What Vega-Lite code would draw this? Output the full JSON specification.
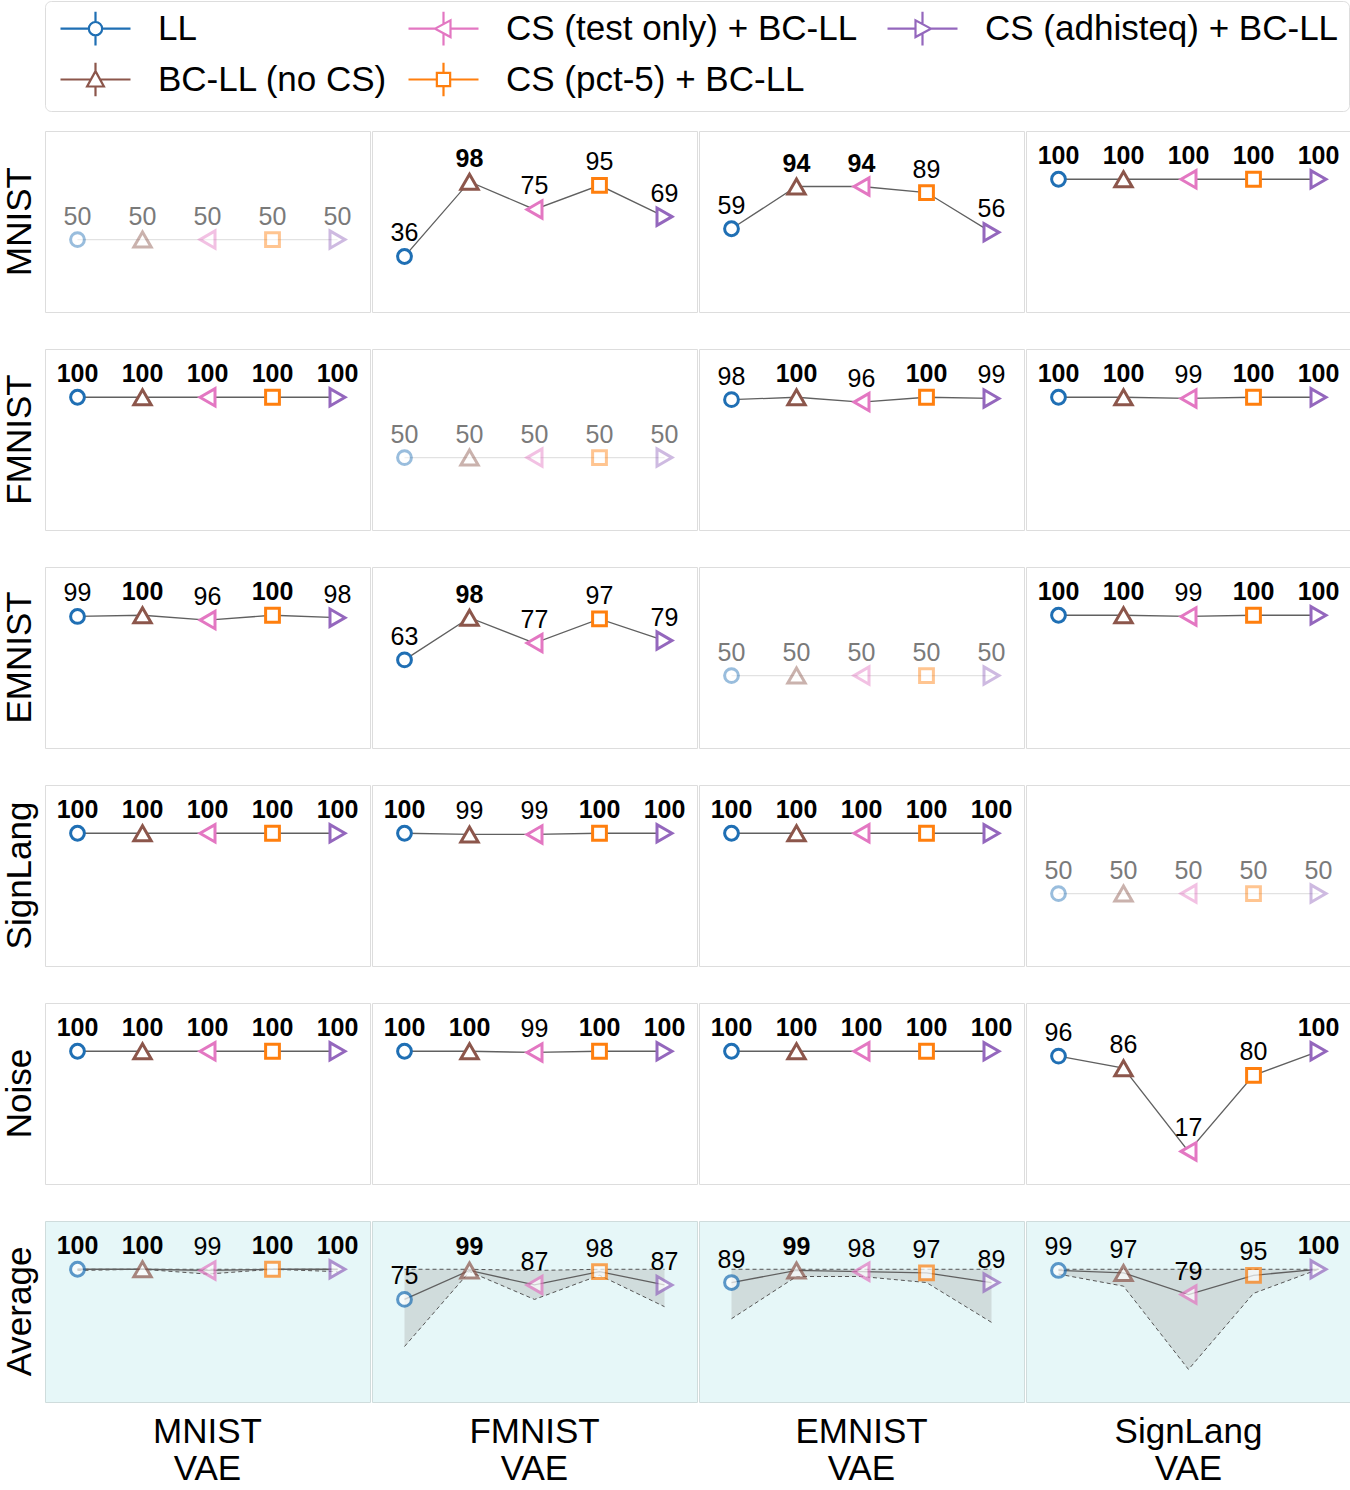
{
  "$schema": "https://vega.github.io/schema/vega-lite/v6.json",
  "padding": {"left": 2, "top": 0, "right": 0, "bottom": 0},
  "background": "white",
  "datasets": {
    "main": [
      {"dataset":"MNIST","model":"MNIST VAE","method":"LL","value":50},
      {"dataset":"MNIST","model":"MNIST VAE","method":"BC-LL (no CS)","value":50},
      {"dataset":"MNIST","model":"MNIST VAE","method":"CS (test only) +  BC-LL","value":50},
      {"dataset":"MNIST","model":"MNIST VAE","method":"CS (pct-5) + BC-LL","value":50},
      {"dataset":"MNIST","model":"MNIST VAE","method":"CS (adhisteq) + BC-LL","value":50},
      {"dataset":"MNIST","model":"FMNIST VAE","method":"LL","value":36},
      {"dataset":"MNIST","model":"FMNIST VAE","method":"BC-LL (no CS)","value":98},
      {"dataset":"MNIST","model":"FMNIST VAE","method":"CS (test only) +  BC-LL","value":75},
      {"dataset":"MNIST","model":"FMNIST VAE","method":"CS (pct-5) + BC-LL","value":95},
      {"dataset":"MNIST","model":"FMNIST VAE","method":"CS (adhisteq) + BC-LL","value":69},
      {"dataset":"MNIST","model":"EMNIST VAE","method":"LL","value":59},
      {"dataset":"MNIST","model":"EMNIST VAE","method":"BC-LL (no CS)","value":94},
      {"dataset":"MNIST","model":"EMNIST VAE","method":"CS (test only) +  BC-LL","value":94},
      {"dataset":"MNIST","model":"EMNIST VAE","method":"CS (pct-5) + BC-LL","value":89},
      {"dataset":"MNIST","model":"EMNIST VAE","method":"CS (adhisteq) + BC-LL","value":56},
      {"dataset":"MNIST","model":"SignLang VAE","method":"LL","value":100},
      {"dataset":"MNIST","model":"SignLang VAE","method":"BC-LL (no CS)","value":100},
      {"dataset":"MNIST","model":"SignLang VAE","method":"CS (test only) +  BC-LL","value":100},
      {"dataset":"MNIST","model":"SignLang VAE","method":"CS (pct-5) + BC-LL","value":100},
      {"dataset":"MNIST","model":"SignLang VAE","method":"CS (adhisteq) + BC-LL","value":100},

      {"dataset":"FMNIST","model":"MNIST VAE","method":"LL","value":100},
      {"dataset":"FMNIST","model":"MNIST VAE","method":"BC-LL (no CS)","value":100},
      {"dataset":"FMNIST","model":"MNIST VAE","method":"CS (test only) +  BC-LL","value":100},
      {"dataset":"FMNIST","model":"MNIST VAE","method":"CS (pct-5) + BC-LL","value":100},
      {"dataset":"FMNIST","model":"MNIST VAE","method":"CS (adhisteq) + BC-LL","value":100},
      {"dataset":"FMNIST","model":"FMNIST VAE","method":"LL","value":50},
      {"dataset":"FMNIST","model":"FMNIST VAE","method":"BC-LL (no CS)","value":50},
      {"dataset":"FMNIST","model":"FMNIST VAE","method":"CS (test only) +  BC-LL","value":50},
      {"dataset":"FMNIST","model":"FMNIST VAE","method":"CS (pct-5) + BC-LL","value":50},
      {"dataset":"FMNIST","model":"FMNIST VAE","method":"CS (adhisteq) + BC-LL","value":50},
      {"dataset":"FMNIST","model":"EMNIST VAE","method":"LL","value":98},
      {"dataset":"FMNIST","model":"EMNIST VAE","method":"BC-LL (no CS)","value":100},
      {"dataset":"FMNIST","model":"EMNIST VAE","method":"CS (test only) +  BC-LL","value":96},
      {"dataset":"FMNIST","model":"EMNIST VAE","method":"CS (pct-5) + BC-LL","value":100},
      {"dataset":"FMNIST","model":"EMNIST VAE","method":"CS (adhisteq) + BC-LL","value":99},
      {"dataset":"FMNIST","model":"SignLang VAE","method":"LL","value":100},
      {"dataset":"FMNIST","model":"SignLang VAE","method":"BC-LL (no CS)","value":100},
      {"dataset":"FMNIST","model":"SignLang VAE","method":"CS (test only) +  BC-LL","value":99},
      {"dataset":"FMNIST","model":"SignLang VAE","method":"CS (pct-5) + BC-LL","value":100},
      {"dataset":"FMNIST","model":"SignLang VAE","method":"CS (adhisteq) + BC-LL","value":100},

      {"dataset":"EMNIST","model":"MNIST VAE","method":"LL","value":99},
      {"dataset":"EMNIST","model":"MNIST VAE","method":"BC-LL (no CS)","value":100},
      {"dataset":"EMNIST","model":"MNIST VAE","method":"CS (test only) +  BC-LL","value":96},
      {"dataset":"EMNIST","model":"MNIST VAE","method":"CS (pct-5) + BC-LL","value":100},
      {"dataset":"EMNIST","model":"MNIST VAE","method":"CS (adhisteq) + BC-LL","value":98},
      {"dataset":"EMNIST","model":"FMNIST VAE","method":"LL","value":63},
      {"dataset":"EMNIST","model":"FMNIST VAE","method":"BC-LL (no CS)","value":98},
      {"dataset":"EMNIST","model":"FMNIST VAE","method":"CS (test only) +  BC-LL","value":77},
      {"dataset":"EMNIST","model":"FMNIST VAE","method":"CS (pct-5) + BC-LL","value":97},
      {"dataset":"EMNIST","model":"FMNIST VAE","method":"CS (adhisteq) + BC-LL","value":79},
      {"dataset":"EMNIST","model":"EMNIST VAE","method":"LL","value":50},
      {"dataset":"EMNIST","model":"EMNIST VAE","method":"BC-LL (no CS)","value":50},
      {"dataset":"EMNIST","model":"EMNIST VAE","method":"CS (test only) +  BC-LL","value":50},
      {"dataset":"EMNIST","model":"EMNIST VAE","method":"CS (pct-5) + BC-LL","value":50},
      {"dataset":"EMNIST","model":"EMNIST VAE","method":"CS (adhisteq) + BC-LL","value":50},
      {"dataset":"EMNIST","model":"SignLang VAE","method":"LL","value":100},
      {"dataset":"EMNIST","model":"SignLang VAE","method":"BC-LL (no CS)","value":100},
      {"dataset":"EMNIST","model":"SignLang VAE","method":"CS (test only) +  BC-LL","value":99},
      {"dataset":"EMNIST","model":"SignLang VAE","method":"CS (pct-5) + BC-LL","value":100},
      {"dataset":"EMNIST","model":"SignLang VAE","method":"CS (adhisteq) + BC-LL","value":100},

      {"dataset":"SignLang","model":"MNIST VAE","method":"LL","value":100},
      {"dataset":"SignLang","model":"MNIST VAE","method":"BC-LL (no CS)","value":100},
      {"dataset":"SignLang","model":"MNIST VAE","method":"CS (test only) +  BC-LL","value":100},
      {"dataset":"SignLang","model":"MNIST VAE","method":"CS (pct-5) + BC-LL","value":100},
      {"dataset":"SignLang","model":"MNIST VAE","method":"CS (adhisteq) + BC-LL","value":100},
      {"dataset":"SignLang","model":"FMNIST VAE","method":"LL","value":100},
      {"dataset":"SignLang","model":"FMNIST VAE","method":"BC-LL (no CS)","value":99},
      {"dataset":"SignLang","model":"FMNIST VAE","method":"CS (test only) +  BC-LL","value":99},
      {"dataset":"SignLang","model":"FMNIST VAE","method":"CS (pct-5) + BC-LL","value":100},
      {"dataset":"SignLang","model":"FMNIST VAE","method":"CS (adhisteq) + BC-LL","value":100},
      {"dataset":"SignLang","model":"EMNIST VAE","method":"LL","value":100},
      {"dataset":"SignLang","model":"EMNIST VAE","method":"BC-LL (no CS)","value":100},
      {"dataset":"SignLang","model":"EMNIST VAE","method":"CS (test only) +  BC-LL","value":100},
      {"dataset":"SignLang","model":"EMNIST VAE","method":"CS (pct-5) + BC-LL","value":100},
      {"dataset":"SignLang","model":"EMNIST VAE","method":"CS (adhisteq) + BC-LL","value":100},
      {"dataset":"SignLang","model":"SignLang VAE","method":"LL","value":50},
      {"dataset":"SignLang","model":"SignLang VAE","method":"BC-LL (no CS)","value":50},
      {"dataset":"SignLang","model":"SignLang VAE","method":"CS (test only) +  BC-LL","value":50},
      {"dataset":"SignLang","model":"SignLang VAE","method":"CS (pct-5) + BC-LL","value":50},
      {"dataset":"SignLang","model":"SignLang VAE","method":"CS (adhisteq) + BC-LL","value":50},

      {"dataset":"Noise","model":"MNIST VAE","method":"LL","value":100},
      {"dataset":"Noise","model":"MNIST VAE","method":"BC-LL (no CS)","value":100},
      {"dataset":"Noise","model":"MNIST VAE","method":"CS (test only) +  BC-LL","value":100},
      {"dataset":"Noise","model":"MNIST VAE","method":"CS (pct-5) + BC-LL","value":100},
      {"dataset":"Noise","model":"MNIST VAE","method":"CS (adhisteq) + BC-LL","value":100},
      {"dataset":"Noise","model":"FMNIST VAE","method":"LL","value":100},
      {"dataset":"Noise","model":"FMNIST VAE","method":"BC-LL (no CS)","value":100},
      {"dataset":"Noise","model":"FMNIST VAE","method":"CS (test only) +  BC-LL","value":99},
      {"dataset":"Noise","model":"FMNIST VAE","method":"CS (pct-5) + BC-LL","value":100},
      {"dataset":"Noise","model":"FMNIST VAE","method":"CS (adhisteq) + BC-LL","value":100},
      {"dataset":"Noise","model":"EMNIST VAE","method":"LL","value":100},
      {"dataset":"Noise","model":"EMNIST VAE","method":"BC-LL (no CS)","value":100},
      {"dataset":"Noise","model":"EMNIST VAE","method":"CS (test only) +  BC-LL","value":100},
      {"dataset":"Noise","model":"EMNIST VAE","method":"CS (pct-5) + BC-LL","value":100},
      {"dataset":"Noise","model":"EMNIST VAE","method":"CS (adhisteq) + BC-LL","value":100},
      {"dataset":"Noise","model":"SignLang VAE","method":"LL","value":96},
      {"dataset":"Noise","model":"SignLang VAE","method":"BC-LL (no CS)","value":86},
      {"dataset":"Noise","model":"SignLang VAE","method":"CS (test only) +  BC-LL","value":17},
      {"dataset":"Noise","model":"SignLang VAE","method":"CS (pct-5) + BC-LL","value":80},
      {"dataset":"Noise","model":"SignLang VAE","method":"CS (adhisteq) + BC-LL","value":100}
    ],
    "avg": [
      {"dataset":"Average","model":"MNIST VAE","method":"LL","value":100,"lo":99,"hi":100},
      {"dataset":"Average","model":"MNIST VAE","method":"BC-LL (no CS)","value":100,"lo":100,"hi":100},
      {"dataset":"Average","model":"MNIST VAE","method":"CS (test only) +  BC-LL","value":99,"lo":96,"hi":100},
      {"dataset":"Average","model":"MNIST VAE","method":"CS (pct-5) + BC-LL","value":100,"lo":100,"hi":100},
      {"dataset":"Average","model":"MNIST VAE","method":"CS (adhisteq) + BC-LL","value":100,"lo":98,"hi":100},
      {"dataset":"Average","model":"FMNIST VAE","method":"LL","value":75,"lo":36,"hi":100},
      {"dataset":"Average","model":"FMNIST VAE","method":"BC-LL (no CS)","value":99,"lo":98,"hi":100},
      {"dataset":"Average","model":"FMNIST VAE","method":"CS (test only) +  BC-LL","value":87,"lo":75,"hi":99},
      {"dataset":"Average","model":"FMNIST VAE","method":"CS (pct-5) + BC-LL","value":98,"lo":95,"hi":100},
      {"dataset":"Average","model":"FMNIST VAE","method":"CS (adhisteq) + BC-LL","value":87,"lo":69,"hi":100},
      {"dataset":"Average","model":"EMNIST VAE","method":"LL","value":89,"lo":59,"hi":100},
      {"dataset":"Average","model":"EMNIST VAE","method":"BC-LL (no CS)","value":99,"lo":94,"hi":100},
      {"dataset":"Average","model":"EMNIST VAE","method":"CS (test only) +  BC-LL","value":98,"lo":94,"hi":100},
      {"dataset":"Average","model":"EMNIST VAE","method":"CS (pct-5) + BC-LL","value":97,"lo":89,"hi":100},
      {"dataset":"Average","model":"EMNIST VAE","method":"CS (adhisteq) + BC-LL","value":89,"lo":56,"hi":100},
      {"dataset":"Average","model":"SignLang VAE","method":"LL","value":99,"lo":96,"hi":100},
      {"dataset":"Average","model":"SignLang VAE","method":"BC-LL (no CS)","value":97,"lo":86,"hi":100},
      {"dataset":"Average","model":"SignLang VAE","method":"CS (test only) +  BC-LL","value":79,"lo":17,"hi":100},
      {"dataset":"Average","model":"SignLang VAE","method":"CS (pct-5) + BC-LL","value":95,"lo":80,"hi":100},
      {"dataset":"Average","model":"SignLang VAE","method":"CS (adhisteq) + BC-LL","value":100,"lo":100,"hi":100}
    ]
  },
  "spacing": 35,
  "vconcat": [
    {
      "data": {"name": "main"},
      "transform": [
        {"joinaggregate": [{"op": "max", "field": "value", "as": "maxv"}], "groupby": ["dataset", "model"]}
      ],
      "facet": {
        "row": {"field": "dataset", "type": "nominal", "sort": ["MNIST", "FMNIST", "EMNIST", "SignLang", "Noise"], "title": null,
          "header": {"labelFontSize": 35, "labelFont": "Liberation Sans", "labelColor": "black", "labelPadding": 6}},
        "column": {"field": "model", "type": "nominal", "sort": ["MNIST VAE", "FMNIST VAE", "EMNIST VAE", "SignLang VAE"], "title": null,
          "header": {"labels": false}}
      },
      "spacing": {"row": 35, "column": 0},
      "spec": {
        "width": 325,
        "height": 181,
        "encoding": {
          "x": {"field": "method", "type": "nominal", "sort": ["LL", "BC-LL (no CS)", "CS (test only) +  BC-LL", "CS (pct-5) + BC-LL", "CS (adhisteq) + BC-LL"], "scale": {"type": "point", "padding": 0.5}, "axis": null},
          "y": {"field": "value", "type": "quantitative", "scale": {"domain": [-10, 140]}, "axis": null}
        },
        "layer": [
          {
            "mark": {"type": "line", "strokeWidth": 1.3},
            "encoding": {
              "stroke": {"condition": {"test": "datum.dataset + ' VAE' === datum.model", "value": "#e2e2e2"}, "value": "#606060"}
            }
          },
          {
            "mark": {"type": "point", "filled": false, "fill": "white", "strokeWidth": 3,
              "shape": {"expr": "datum.method ? (datum.method === 'LL' ? 'circle' : datum.method === 'BC-LL (no CS)' ? 'triangle-up' : datum.method === 'CS (pct-5) + BC-LL' ? 'square' : datum.method === 'CS (adhisteq) + BC-LL' ? 'triangle-right' : 'triangle-left') : (datum.value === 'LL' ? 'M-5,0H-0.95M0.95,0H5M0,-2.4V-0.95M0,0.95V2.4M0.95,0A0.95,0.95,0,1,1,-0.95,0A0.95,0.95,0,1,1,0.95,0Z' : datum.value === 'BC-LL (no CS)' ? 'M-5,0H-0.65M0.65,0H5M0,-2.4V-1.2M0,1.0V2.4M0,-1.2L1.2,1.0L-1.2,1.0Z' : datum.value === 'CS (pct-5) + BC-LL' ? 'M-5,0H-0.95M0.95,0H5M0,-2.4V-0.95M0,0.95V2.4M-0.95,-0.95H0.95V0.95H-0.95Z' : datum.value === 'CS (adhisteq) + BC-LL' ? 'M-5,0H-1.0M1.2,0H5M0,-2.4V-0.65M0,0.65V2.4M1.2,0L-1.0,-1.2L-1.0,1.2Z' : 'M-5,0H-1.2M1.0,0H5M0,-2.4V-0.65M0,0.65V2.4M-1.2,0L1.0,-1.2L1.0,1.2Z')"}},
            "encoding": {
              "stroke": {"field": "method", "type": "nominal", "title": null,
                "scale": {"domain": ["LL", "BC-LL (no CS)", "CS (test only) +  BC-LL", "CS (pct-5) + BC-LL", "CS (adhisteq) + BC-LL"],
                          "range": ["#1f6fb4", "#8c564b", "#e377c2", "#ff7f0e", "#9467bd"]},
                "legend": {
                  "orient": "none", "legendX": 0, "legendY": -130,
                  "columns": 3, "columnPadding": 15, "rowPadding": 8, "padding": 10, "gridAlign": "each",
                  "strokeColor": "#dddddd", "cornerRadius": 6,
                  "labelFontSize": 35, "labelFont": "Liberation Sans", "labelColor": "black", "labelLimit": 600,
                  "symbolSize": 196, "symbolStrokeWidth": 2.2, "symbolFillColor": "white",
                  "symbolOffset": 23, "labelOffset": 45
                }
              },
              "size": {"condition": {"test": "datum.method !== 'LL' && datum.method !== 'CS (pct-5) + BC-LL'", "value": 300}, "value": 190},
              "opacity": {"condition": {"test": "datum.dataset + ' VAE' === datum.model", "value": 0.45}, "value": 1}
            }
          },
          {
            "transform": [{"filter": "datum.value === datum.maxv && datum.dataset + ' VAE' !== datum.model"}],
            "mark": {"type": "text", "dy": -23, "fontSize": 25, "font": "Liberation Sans", "fontWeight": "bold", "baseline": "middle", "color": "black"},
            "encoding": {
              "text": {"field": "value", "type": "quantitative", "format": ".0f"}
            }
          },
          {
            "transform": [{"filter": "!(datum.value === datum.maxv && datum.dataset + ' VAE' !== datum.model)"}],
            "mark": {"type": "text", "dy": -23, "fontSize": 25, "font": "Liberation Sans", "baseline": "middle"},
            "encoding": {
              "text": {"field": "value", "type": "quantitative", "format": ".0f"},
              "color": {"condition": {"test": "datum.dataset + ' VAE' === datum.model", "value": "#7a7a7a"}, "value": "black"}
            }
          }
        ]
      }
    },
    {
      "data": {"name": "avg"},
      "transform": [
        {"joinaggregate": [{"op": "max", "field": "value", "as": "maxv"}], "groupby": ["model"]}
      ],
      "facet": {
        "row": {"field": "dataset", "type": "nominal", "title": null,
          "header": {"labelFontSize": 35, "labelFont": "Liberation Sans", "labelColor": "black", "labelPadding": 6}},
        "column": {"field": "model", "type": "nominal", "sort": ["MNIST VAE", "FMNIST VAE", "EMNIST VAE", "SignLang VAE"], "title": null,
          "header": {"labelOrient": "bottom", "labelExpr": "split(datum.value, ' ')", "labelFontSize": 35, "labelFont": "Liberation Sans", "labelColor": "black", "labelPadding": 12, "labelLineHeight": 37}}
      },
      "spacing": {"row": 35, "column": 0},
      "spec": {
        "width": 325,
        "height": 181,
        "view": {"fill": "#e6f7f8", "stroke": "#cfdcdc"},
        "encoding": {
          "x": {"field": "method", "type": "nominal", "sort": ["LL", "BC-LL (no CS)", "CS (test only) +  BC-LL", "CS (pct-5) + BC-LL", "CS (adhisteq) + BC-LL"], "scale": {"type": "point", "padding": 0.5}, "axis": null},
          "y": {"field": "value", "type": "quantitative", "scale": {"domain": [-10, 140]}, "axis": null}
        },
        "layer": [
          {
            "mark": {"type": "area", "color": "#d0dcdc", "opacity": 1},
            "encoding": {
              "y": {"field": "lo", "type": "quantitative"},
              "y2": {"field": "hi"}
            }
          },
          {
            "mark": {"type": "line", "color": "#555555", "strokeWidth": 1, "strokeDash": [4, 3]},
            "encoding": {"y": {"field": "hi", "type": "quantitative"}}
          },
          {
            "mark": {"type": "line", "color": "#555555", "strokeWidth": 1, "strokeDash": [4, 3]},
            "encoding": {"y": {"field": "lo", "type": "quantitative"}}
          },
          {
            "mark": {"type": "line", "color": "#606060", "strokeWidth": 1.3},
            "encoding": {}
          },
          {
            "mark": {"type": "point", "filled": false, "fill": "white", "strokeWidth": 3,
              "shape": {"expr": "datum.method ? (datum.method === 'LL' ? 'circle' : datum.method === 'BC-LL (no CS)' ? 'triangle-up' : datum.method === 'CS (pct-5) + BC-LL' ? 'square' : datum.method === 'CS (adhisteq) + BC-LL' ? 'triangle-right' : 'triangle-left') : (datum.value === 'LL' ? 'M-5,0H-0.95M0.95,0H5M0,-2.4V-0.95M0,0.95V2.4M0.95,0A0.95,0.95,0,1,1,-0.95,0A0.95,0.95,0,1,1,0.95,0Z' : datum.value === 'BC-LL (no CS)' ? 'M-5,0H-0.65M0.65,0H5M0,-2.4V-1.2M0,1.0V2.4M0,-1.2L1.2,1.0L-1.2,1.0Z' : datum.value === 'CS (pct-5) + BC-LL' ? 'M-5,0H-0.95M0.95,0H5M0,-2.4V-0.95M0,0.95V2.4M-0.95,-0.95H0.95V0.95H-0.95Z' : datum.value === 'CS (adhisteq) + BC-LL' ? 'M-5,0H-1.0M1.2,0H5M0,-2.4V-0.65M0,0.65V2.4M1.2,0L-1.0,-1.2L-1.0,1.2Z' : 'M-5,0H-1.2M1.0,0H5M0,-2.4V-0.65M0,0.65V2.4M-1.2,0L1.0,-1.2L1.0,1.2Z')"}},
            "encoding": {
              "stroke": {"field": "method", "type": "nominal", "title": null,
                "scale": {"domain": ["LL", "BC-LL (no CS)", "CS (test only) +  BC-LL", "CS (pct-5) + BC-LL", "CS (adhisteq) + BC-LL"],
                          "range": ["#1f6fb4", "#8c564b", "#e377c2", "#ff7f0e", "#9467bd"]}},
              "size": {"condition": {"test": "datum.method !== 'LL' && datum.method !== 'CS (pct-5) + BC-LL'", "value": 300}, "value": 190}
            }
          },
          {
            "transform": [{"filter": "datum.value === datum.maxv"}],
            "mark": {"type": "text", "dy": -23, "fontSize": 25, "font": "Liberation Sans", "fontWeight": "bold", "baseline": "middle", "color": "black"},
            "encoding": {
              "text": {"field": "value", "type": "quantitative", "format": ".0f"}
            }
          },
          {
            "transform": [{"filter": "datum.value !== datum.maxv"}],
            "mark": {"type": "text", "dy": -23, "fontSize": 25, "font": "Liberation Sans", "baseline": "middle", "color": "black"},
            "encoding": {
              "text": {"field": "value", "type": "quantitative", "format": ".0f"}
            }
          }
        ]
      }
    }
  ],
  "config": {
    "font": "Liberation Sans",
    "view": {"stroke": "#dddddd", "strokeWidth": 1}
  }
}
